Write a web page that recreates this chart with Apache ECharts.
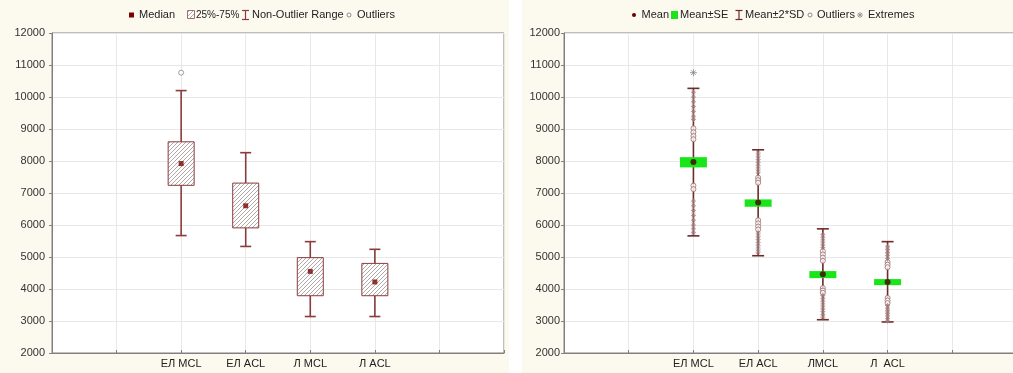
<!DOCTYPE html>
<html>
<head>
<meta charset="utf-8">
<script src="https://cdn.jsdelivr.net/npm/echarts/dist/echarts.min.js"></script>
<style>
html, body { margin: 0; padding: 0; background: #fff; overflow: hidden; width: 1013px; height: 373px; }
#left  { position: absolute; left: 0;     top: 0; width: 509px; height: 373px; background: #fcf9ef; }
#right { position: absolute; left: 522px; top: 0; width: 500px; height: 373px; background: #fcf9ef; }
</style>
</head>
<body>
<div id="left"></div>
<div id="right"></div>
<script>
// ---- data ----
const categories = ['ЕЛ MCL', 'ЕЛ ACL', 'Л MCL', 'Л ACL'];
const rightLabels = ['ЕЛ MCL', 'ЕЛ ACL', 'ЛMCL', 'Л  ACL'];

// left: median / quartiles / non-outlier range
const medians = [7920, 6600, 4550, 4220];
const q1 = [7240, 5910, 3790, 3790];
const q3 = [8600, 7310, 4980, 4800];
const rangeLow = [5670, 5330, 3140, 3140];
const rangeHigh = [10200, 8260, 5480, 5240];
const boxOutliers = [[0, 10760]];

// right: mean, ±SE, ±2*SD
const means = [7970, 6700, 4460, 4220];
const seLow = [7800, 6570, 4340, 4120];
const seHigh = [8120, 6800, 4560, 4310];
const sdLow = [5660, 5040, 3040, 2970];
const sdHigh = [10270, 8350, 5880, 5480];
const pointOutliers = [
  [9020, 8900, 8780, 8680, 7230, 7120],
  [7480, 7400, 7320, 6150, 6050, 5950, 5860],
  [5180, 5080, 4980, 4880, 4030, 3950, 3880],
  [4840, 4760, 4680, 3720, 3640, 3560]
];
const pointExtremes = [
  [10150, 10000, 9850, 9700, 9550, 9400, 9300, 6750, 6600, 6450, 6300, 6150, 6000, 5880, 5760],
  [8250, 8150, 8050, 7950, 7850, 7750, 7650, 5750, 5650, 5550, 5450, 5350, 5250, 5150],
  [5700, 5600, 5500, 5400, 5300, 3800, 3700, 3600, 3500, 3400, 3300, 3200, 3120],
  [5320, 5230, 5140, 5050, 4950, 3480, 3400, 3320, 3240, 3160, 3080, 3000]
];
const farExtremes = [[0, 10760]];

const yTicks = { min: 2000, max: 12000, step: 1000 };
const SLOT0 = 2;           // first category sits on the 2nd gridline of 7 slots
const slotX = i => i + SLOT0;

// ---- helpers ----
const FONT = 'Arial, "Liberation Sans", sans-serif';
const AX = '#808080';
const GRID = '#e8e8e8';

function hatchPattern() {
  const c = document.createElement('canvas');
  c.width = 4; c.height = 4;
  const g = c.getContext('2d');
  g.fillStyle = '#ffffff'; g.fillRect(0, 0, 4, 4);
  g.strokeStyle = '#a09090'; g.lineWidth = 0.8;
  g.beginPath();
  g.moveTo(0, 4); g.lineTo(4, 0);
  g.moveTo(-1, 1); g.lineTo(1, -1);
  g.moveTo(3, 5); g.lineTo(5, 3);
  g.stroke();
  return { image: c, repeat: 'repeat' };
}

function xAxisCfg(labels) {
  return {
    type: 'value', min: 0, max: 7, interval: 1,
    axisLine: { show: true, lineStyle: { color: AX } },
    axisTick: { show: true, inside: true, length: 3, lineStyle: { color: AX } },
    splitLine: { show: true, lineStyle: { color: GRID } },
    axisLabel: {
      color: '#222', fontSize: 11, fontFamily: FONT, margin: 5,
      showMinLabel: true, showMaxLabel: true,
      formatter: v => labels[v - SLOT0] || ''
    }
  };
}
function yAxisCfg(margin) {
  return {
    type: 'value', min: yTicks.min, max: yTicks.max, interval: yTicks.step,
    axisLine: { show: true, lineStyle: { color: AX } },
    axisTick: { show: true, length: 3, lineStyle: { color: AX } },
    splitLine: { show: true, lineStyle: { color: GRID } },
    axisLabel: { color: '#333', fontSize: 11, fontFamily: FONT, margin: margin, formatter: v => String(v) }
  };
}

function rangeRender(capHalf, color, width) {
  return function (params, api) {
    const x = api.value(0);
    const top = api.coord([x, api.value(2)]);
    const bot = api.coord([x, api.value(1)]);
    const st = { stroke: color, lineWidth: width };
    return {
      type: 'group', children: [
        { type: 'line', shape: { x1: top[0], y1: top[1], x2: bot[0], y2: bot[1] }, style: st },
        { type: 'line', shape: { x1: top[0] - capHalf, y1: top[1], x2: top[0] + capHalf, y2: top[1] }, style: st },
        { type: 'line', shape: { x1: bot[0] - capHalf, y1: bot[1], x2: bot[0] + capHalf, y2: bot[1] }, style: st }
      ]
    };
  };
}
function boxRender(halfW, fill, stroke) {
  return function (params, api) {
    const x = api.value(0);
    const top = api.coord([x, api.value(2)]);
    const bot = api.coord([x, api.value(1)]);
    return {
      type: 'rect',
      shape: { x: top[0] - halfW, y: top[1], width: halfW * 2, height: bot[1] - top[1] },
      style: stroke ? { fill: fill, stroke: stroke, lineWidth: 1 } : { fill: fill }
    };
  };
}

function legendText(x, s, size) {
  return { type: 'text', x: x, y: 15, style: { text: s, font: (size || 11) + 'px ' + FONT, fill: '#222', verticalAlign: 'middle' } };
}
function ibeam(cx, color) {
  const st = { stroke: color, lineWidth: 1.2 };
  return {
    type: 'group', children: [
      { type: 'line', shape: { x1: cx, y1: 10.5, x2: cx, y2: 19.5 }, style: st },
      { type: 'line', shape: { x1: cx - 3.5, y1: 10.5, x2: cx + 3.5, y2: 10.5 }, style: st },
      { type: 'line', shape: { x1: cx - 3.5, y1: 19.5, x2: cx + 3.5, y2: 19.5 }, style: st }
    ]
  };
}
function asteriskMark(cx, cy, r, color) {
  const st = { stroke: color, lineWidth: 1 };
  const d = r * 0.7;
  return {
    type: 'group', children: [
      { type: 'line', shape: { x1: cx - r, y1: cy, x2: cx + r, y2: cy }, style: st },
      { type: 'line', shape: { x1: cx, y1: cy - r, x2: cx, y2: cy + r }, style: st },
      { type: 'line', shape: { x1: cx - d, y1: cy - d, x2: cx + d, y2: cy + d }, style: st },
      { type: 'line', shape: { x1: cx - d, y1: cy + d, x2: cx + d, y2: cy - d }, style: st }
    ]
  };
}

const hatch = hatchPattern();
const LEFT_COL = '#8a3c3c';
const RIGHT_COL = '#6e2b2b';
const ASTER = 'path://M0,3L6,3M3,0L3,6M1,1L5,5M1,5L5,1';

// ---- left chart: median box plot ----
const boxData = categories.map((c, i) => [slotX(i), q1[i], q3[i]]);
const rangeData = categories.map((c, i) => [slotX(i), rangeLow[i], rangeHigh[i]]);
const medianData = categories.map((c, i) => [slotX(i), medians[i]]);
const outlierData = boxOutliers.map(p => [slotX(p[0]), p[1]]);

const left = echarts.init(document.getElementById('left'), null, { renderer: 'canvas' });
left.setOption({
  animation: false,
  grid: { left: 52, top: 33, width: 452, height: 320, show: true, backgroundColor: '#fff', borderColor: AX, borderWidth: 1 },
  xAxis: xAxisCfg(categories),
  yAxis: yAxisCfg(7),
  graphic: [
    { type: 'rect', shape: { x: 129, y: 12.5, width: 5, height: 5 }, style: { fill: '#7a0000' } },
    legendText(139, 'Median'),
    { type: 'rect', shape: { x: 187.5, y: 10.5, width: 7, height: 8 }, style: { fill: hatch, stroke: '#a07070', lineWidth: 1 } },
    legendText(196, '25%-75%', 10),
    ibeam(245.5, LEFT_COL),
    legendText(252, 'Non-Outlier Range'),
    { type: 'circle', shape: { cx: 349, cy: 15, r: 2 }, style: { fill: '#fff', stroke: '#888', lineWidth: 1 } },
    legendText(357, 'Outliers')
  ],
  series: [
    { name: 'Non-Outlier Range', type: 'custom', renderItem: rangeRender(5.5, LEFT_COL, 1.6), data: rangeData, encode: { x: 0, y: [1, 2] }, silent: true },
    { name: '25%-75%', type: 'custom', renderItem: boxRender(13, hatch, LEFT_COL), data: boxData, encode: { x: 0, y: [1, 2] }, silent: true },
    { name: 'Median', type: 'scatter', data: medianData, symbol: 'rect', symbolSize: 5, itemStyle: { color: '#7a0000' }, silent: true },
    { name: 'Outliers', type: 'scatter', data: outlierData, symbol: 'circle', symbolSize: 5, itemStyle: { color: '#fff', borderColor: '#888', borderWidth: 1 }, silent: true }
  ]
});

// ---- right chart: mean, SE and 2*SD ----
const sdData = categories.map((c, i) => [slotX(i), sdLow[i], sdHigh[i]]);
const seData = categories.map((c, i) => [slotX(i), seLow[i], seHigh[i]]);
const meanData = categories.map((c, i) => [slotX(i), means[i]]);
const ptOut = [];
pointOutliers.forEach((vals, i) => vals.forEach(v => ptOut.push([slotX(i), v])));
const ptExt = [];
pointExtremes.forEach((vals, i) => vals.forEach(v => ptExt.push([slotX(i), v])));
const farExt = farExtremes.map(p => [slotX(p[0]), p[1]]);

const right = echarts.init(document.getElementById('right'), null, { renderer: 'canvas' });
right.setOption({
  animation: false,
  grid: { left: 42, top: 33, width: 453, height: 320, show: true, backgroundColor: '#fff', borderColor: AX, borderWidth: 1 },
  xAxis: xAxisCfg(rightLabels),
  yAxis: yAxisCfg(4),
  graphic: [
    { type: 'circle', shape: { cx: 112, cy: 15, r: 2 }, style: { fill: '#6a0000' } },
    legendText(119.5, 'Mean'),
    { type: 'rect', shape: { x: 149, y: 11, width: 7, height: 8 }, style: { fill: '#19e619' } },
    legendText(158, 'Mean±SE'),
    ibeam(217, RIGHT_COL),
    legendText(223, 'Mean±2*SD'),
    { type: 'circle', shape: { cx: 288, cy: 15, r: 2 }, style: { fill: '#fff', stroke: '#888', lineWidth: 1 } },
    legendText(295, 'Outliers'),
    asteriskMark(338, 15, 3, '#999'),
    legendText(346, 'Extremes')
  ],
  series: [
    { name: 'Mean±2*SD', type: 'custom', renderItem: rangeRender(6, RIGHT_COL, 1.6), data: sdData, encode: { x: 0, y: [1, 2] }, silent: true },
    { name: 'Mean±SE', type: 'custom', renderItem: boxRender(13.5, '#19e619', null), data: seData, encode: { x: 0, y: [1, 2] }, silent: true },
    { name: 'Outliers', type: 'scatter', data: ptOut, symbol: 'circle', symbolSize: 5, itemStyle: { color: '#fff', borderColor: '#9a6a6a', borderWidth: 1 }, silent: true },
    { name: 'Extremes', type: 'scatter', data: ptExt, symbol: ASTER, symbolSize: 5, itemStyle: { color: 'transparent', borderColor: '#a07a7a', borderWidth: 1 }, silent: true },
    { name: 'Extremes', type: 'scatter', data: farExt, symbol: ASTER, symbolSize: 7, itemStyle: { color: 'transparent', borderColor: '#888', borderWidth: 1 }, silent: true },
    { name: 'Mean', type: 'scatter', data: meanData, symbol: 'circle', symbolSize: 6, itemStyle: { color: '#4a0000' }, silent: true }
  ]
});
</script>
</body>
</html>
